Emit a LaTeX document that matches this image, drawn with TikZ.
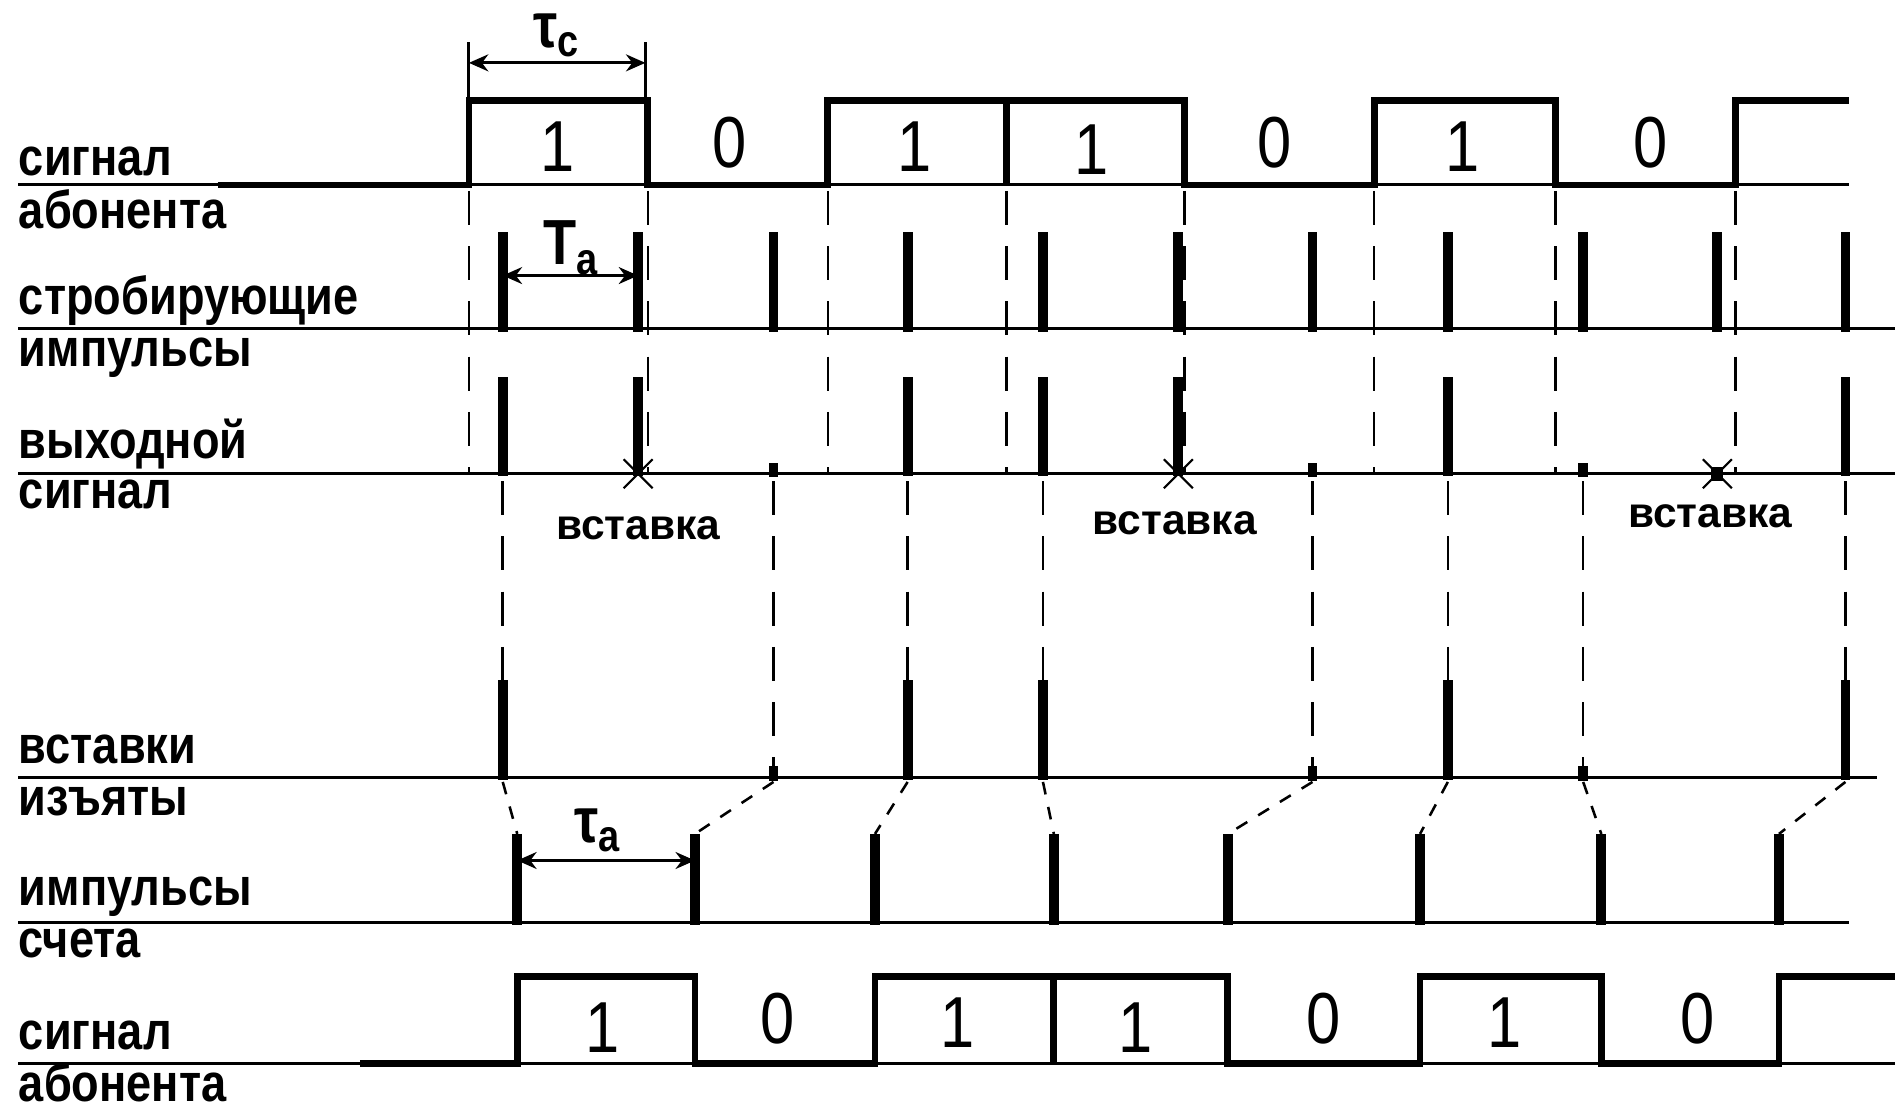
\documentclass[tikz,border=0pt]{standalone}
\usepackage{fontspec}
\setmainfont{Liberation Sans}
\newfontfamily\narrowfont[FakeStretch=0.85]{Liberation Sans}
\newfontfamily\digitfont[FakeStretch=0.85]{Liberation Sans}
\usetikzlibrary{
    arrows.meta,
    positioning,
    calc
}

\begin{document}
\begin{tikzpicture}[
    x=0.01cm,
    y=-0.01cm,
    every node/.style={
        inner sep=0pt
    },
    rowlabel/.style={
        anchor=base west,
        font=\narrowfont\bfseries\fontsize{12.5pt}{15pt}\selectfont
    },
    bitval/.style={
        font=\digitfont\fontsize{17pt}{19pt}\selectfont
    },
    insertlabel/.style={
        font=\bfseries\fontsize{10pt}{12pt}\selectfont
    },
    dimlabel/.style={
        font=\narrowfont\bfseries\fontsize{15pt}{17pt}\selectfont
    },
    axisline/.style={
        line width=0.7pt,
        draw=black
    },
    trace/.style={
        line width=1.6pt,
        draw=black,
        line join=miter
    },
    pulse/.style={
        line width=2.3pt,
        draw=black
    },
    guide/.style={
        line width=0.6pt,
        dash pattern=on 8pt off 5pt,
        draw=black
    },
    slantguide/.style={
        line width=0.6pt,
        dash pattern=on 3pt off 3pt,
        draw=black
    },
    dimline/.style={
        {Stealth[length=1.6mm,width=1.4mm]}-{Stealth[length=1.6mm,width=1.4mm]},
        line width=0.7pt,
        draw=black
    },
    crossmark/.style={
        line width=0.5pt,
        draw=black
    }
]

\useasboundingbox (0,0) rectangle (1568,920);

% ===========================================================
% ROW 1: subscriber signal
% ===========================================================

\node[rowlabel] (sigtop) at (15,145) {сигнал};
\node[rowlabel] (abtop) at (15,189) {абонента};

\draw[axisline] (15,153) -- (1530,153);

\draw[trace]
    (180,153) -- (388,153) -- (388,83) -- (536,83) -- (536,153)
    -- (685,153) -- (685,83) -- (980,83) -- (980,153)
    -- (1137,153) -- (1137,83) -- (1287,83) -- (1287,153)
    -- (1436,153) -- (1436,83) -- (1530,83);
\draw[trace] (833,83) -- (833,153);

\node[bitval] (b1) at (461,121) {1};
\node[bitval] (b2) at (604,118) {0};
\node[bitval] (b3) at (757,121) {1};
\node[bitval] (b4) at (903,124) {1};
\node[bitval] (b5) at (1055,118) {0};
\node[bitval] (b6) at (1210,121) {1};
\node[bitval] (b7) at (1366,118) {0};

% bit duration
\coordinate (tcleft) at (388,52);
\coordinate (tcright) at (534,52);
\draw[axisline] (388,35) -- (388,83);
\draw[axisline] (534,35) -- (534,83);
\draw[dimline] (tcleft) -- (tcright);
\node[dimlabel] (tc) at (461,29) {τ\textsubscript{c}};

% ===========================================================
% ROW 2: strobe pulses
% ===========================================================

\node[rowlabel] (strob) at (15,260) {стробирующие};
\node[rowlabel] (imp1) at (15,303) {импульсы};

\draw[axisline] (15,272) -- (1568,272);

\foreach \x in {416,528,640,751,863,975,1086,1198,1310,1421,1527}
    \draw[pulse] (\x,192) -- (\x,275);

\coordinate (taleft) at (416,228);
\coordinate (taright) at (528,228);
\draw[dimline] (taleft) -- (taright);
\node[dimlabel] (ta) at (473,205) {T\textsubscript{a}};

% edges of the subscriber signal carried down
\foreach \x in {388,536,685,833,980,1137,1287,1436}
    \draw[guide] (\x,158) -- (\x,392);

% ===========================================================
% ROW 3: output signal
% ===========================================================

\node[rowlabel] (vyh) at (15,379) {выходной};
\node[rowlabel] (sigout) at (15,421) {сигнал};

\draw[axisline] (15,392) -- (1568,392);

\foreach \x in {416,528,751,863,975,1198,1527}
    \draw[pulse] (\x,312) -- (\x,394);
\foreach \x in {640,1086,1310}
    \fill (\x-4,383) rectangle (\x+4,395);

% insertions
\foreach \x in {528,975,1421} {
    \draw[crossmark] (\x-12,380) -- (\x+12,404);
    \draw[crossmark] (\x-12,404) -- (\x+12,380);
}
\fill (1416,386) rectangle (1426,398);

\node[insertlabel] (ins1) at (528,437) {вставка};
\node[insertlabel] (ins2) at (972,433) {вставка};
\node[insertlabel] (ins3) at (1415,427) {вставка};

% samples carried down
\foreach \x in {416,751,863,1198,1527}
    \draw[guide] (\x,398) -- (\x,563);
\foreach \x in {640,1086,1310}
    \draw[guide] (\x,398) -- (\x,636);

% ===========================================================
% ROW 4: insertions removed
% ===========================================================

\node[rowlabel] (vst) at (15,632) {вставки};
\node[rowlabel] (izy) at (15,675) {изъяты};

\draw[axisline] (15,643) -- (1553,643);

\foreach \x in {416,751,863,1198,1527}
    \draw[pulse] (\x,563) -- (\x,645);
\foreach \x in {640,1086,1310}
    \fill (\x-4,634) rectangle (\x+4,646);

% realignment onto the count clock
\foreach \a/\b in {416/428,640/575,751/724,863/872,1086/1016,1198/1175,1310/1325,1527/1472}
    \draw[slantguide] (\a,647) -- (\b,690);

% ===========================================================
% ROW 5: count pulses
% ===========================================================

\node[rowlabel] (imp2) at (15,749) {импульсы};
\node[rowlabel] (scht) at (15,792) {счета};

\draw[axisline] (15,763) -- (1530,763);

\foreach \x in {428,575,724,872,1016,1175,1325,1472}
    \draw[pulse] (\x,690) -- (\x,765);

\coordinate (tauleft) at (428,712);
\coordinate (tauright) at (575,712);
\draw[dimline] (tauleft) -- (tauright);
\node[dimlabel] (tau) at (495,687) {τ\textsubscript{a}};

% ===========================================================
% ROW 6: restored subscriber signal
% ===========================================================

\node[rowlabel] (sigbot) at (15,868) {сигнал};
\node[rowlabel] (abbot) at (15,911) {абонента};

\draw[axisline] (15,880) -- (1568,880);

\draw[trace]
    (298,880) -- (428,880) -- (428,808) -- (575,808) -- (575,880)
    -- (724,880) -- (724,808) -- (1016,808) -- (1016,880)
    -- (1175,880) -- (1175,808) -- (1325,808) -- (1325,880)
    -- (1472,880) -- (1472,808) -- (1568,808);
\draw[trace] (872,808) -- (872,880);

\node[bitval] (c1) at (499,850) {1};
\node[bitval] (c2) at (643,843) {0};
\node[bitval] (c3) at (792,846) {1};
\node[bitval] (c4) at (940,850) {1};
\node[bitval] (c5) at (1095,843) {0};
\node[bitval] (c6) at (1245,846) {1};
\node[bitval] (c7) at (1405,843) {0};

\end{tikzpicture}
\end{document}
